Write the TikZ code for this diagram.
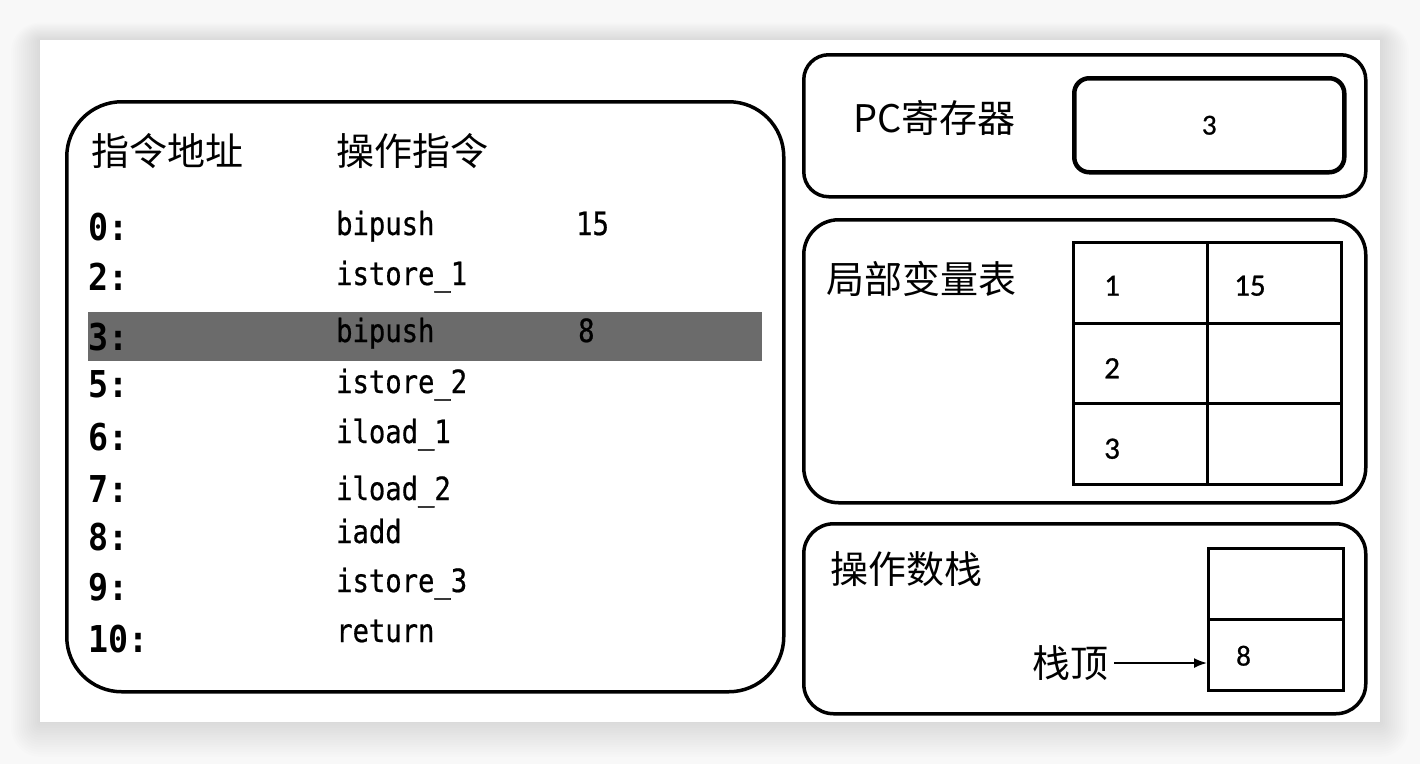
\documentclass[tikz,border=0pt]{standalone}
\usepackage{fontspec}
\setmainfont{Liberation Sans}
\newfontfamily\cjk{Noto Sans CJK SC}
\newfontfamily\codef[FakeStretch=0.85,FakeBold=0.6]{DejaVu Sans Mono}
\newfontfamily\addrf[FakeStretch=0.9]{DejaVu Sans Mono}
\newfontfamily\numf[FakeBold=0.8]{Carlito}
\usetikzlibrary{arrows.meta}
\definecolor{pagebg}{HTML}{F8F8F8}
\definecolor{bandgray}{HTML}{6B6B6B}
\newcommand\hdrfont{\cjk\fontsize{38}{42}\selectfont}
\newcommand\codefont{\codef\fontsize{32}{34}\selectfont}
\newcommand\addrfont{\addrf\bfseries\fontsize{37}{40}\selectfont}
\newcommand\cellfont{\numf\fontsize{31}{33}\selectfont}
\begin{document}
\begin{tikzpicture}[x=1pt,y=-1pt,
  panel/.style={draw=black, line width=3.5pt, rounded corners=#1, anchor=north west, inner sep=0pt},
  cell/.style={draw=black, line width=2.5pt, anchor=north west, inner sep=0pt, minimum width=134pt},
  txt/.style={inner sep=0pt, anchor=west},
  code/.style={inner sep=0pt, anchor=base west, font=\codefont},
  addr/.style={inner sep=0pt, anchor=base west, font=\addrfont},
  hdr/.style={inner sep=0pt, anchor=west, font=\hdrfont},
  num/.style={inner sep=0pt, anchor=west, font=\cellfont},
  ptr/.style={line width=1.8pt, -{Latex[length=13pt,width=10pt]}}
]
\useasboundingbox (0,0) rectangle (1420,764);
\fill[pagebg] (0,0) rectangle (1420,764);
% soft shadow of the card
\foreach \d in {1,3,...,29}{
  \fill[black, opacity=0.006, rounded corners=\d pt] (40-\d,40-\d*0.6) rectangle (1380+\d,722+\d*1.2);
}
\fill[white] (40,40) rectangle (1380,722);

% ---------- left panel: instructions ----------
\node[panel=55pt, minimum width=717pt, minimum height=590pt] (prog) at (65,100) {};
\node[fill=bandgray, anchor=north west, inner sep=0pt, minimum width=674pt, minimum height=49pt] (hl) at (88,312) {};

\node[hdr] (haddr) at (91,151) {指令地址};
\node[hdr] (hins) at (336,151) {操作指令};

\foreach \a/\ins/\ya/\yi [count=\i] in {
  0:/bipush/240/235,
  2:/istore\_1/290/285,
  3:/bipush/350/342,
  5:/istore\_2/397/393,
  6:/iload\_1/450/443,
  7:/iload\_2/502/500,
  8:/iadd/550/543,
  9:/istore\_3/600/592,
  10:/return/652/642}{
  \node[addr] (addr\i) at (88,\ya) {\a};
  \node[code] (ins\i) at (336,\yi) {\ins};
}
\node[code] (op1) at (576,235) {15};
\node[code] (op3) at (578,342) {8};

% ---------- PC register ----------
\node[panel=25pt, minimum width=562pt, minimum height=142pt] (pcbox) at (802,53) {};
\node[txt, font=\hdrfont] (pclabel) at (853,118) {PC寄存器};
\node[draw=black, line width=4.5pt, rounded corners=15pt, anchor=north west, inner sep=0pt,
      minimum width=270pt, minimum height=94pt, font=\numf\fontsize{29}{31}\selectfont] (pcval) at (1072,76) {3};

% ---------- local variable table ----------
\node[panel=35pt, minimum width=562pt, minimum height=283pt] (lvt) at (802,218) {};
\node[hdr] (lvtlabel) at (826,279) {局部变量表};
\node[cell, minimum height=81pt] (c11) at (1072,241) {};
\node[cell, minimum height=81pt] (c12) at (1206,241) {};
\node[cell, minimum height=80pt] (c21) at (1072,322) {};
\node[cell, minimum height=80pt] (c22) at (1206,322) {};
\node[cell, minimum height=81pt] (c31) at (1072,402) {};
\node[cell, minimum height=81pt] (c32) at (1206,402) {};
\node[num] (v11) at ([xshift=32pt,yshift=-3pt]c11.west) {1};
\node[num] (v12) at ([xshift=28pt,yshift=-3pt]c12.west) {15};
\node[num] (v21) at ([xshift=32pt,yshift=-5pt]c21.west) {2};
\node[num] (v31) at ([xshift=32pt,yshift=-5pt]c31.west) {3};

% ---------- operand stack ----------
\node[panel=30pt, minimum width=562pt, minimum height=190pt] (ops) at (802,522) {};
\node[hdr] (opslabel) at (830,569) {操作数栈};
\node[cell, minimum width=135pt, minimum height=71pt] (s1) at (1207,547) {};
\node[cell, minimum width=135pt, minimum height=71pt] (s2) at (1207,618) {};
\node[num, font=\numf\fontsize{29}{31}\selectfont] (s2v) at ([xshift=29pt,yshift=-1pt]s2.west) {8};
\node[hdr] (top) at (1032,663) {栈顶};
\draw[ptr] ([xshift=6pt]top.east) -- (top.east -| s2.west);
\end{tikzpicture}
\end{document}
